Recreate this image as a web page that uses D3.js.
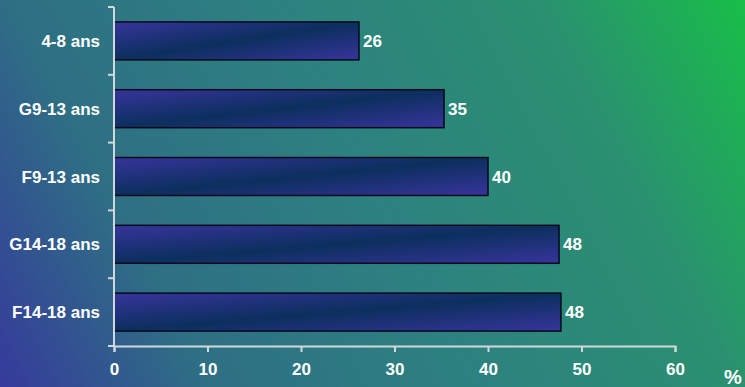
<!DOCTYPE html>
<html>
<head>
<meta charset="utf-8">
<script src="https://cdn.jsdelivr.net/npm/d3@7"></script>
<style>
  html, body { margin: 0; padding: 0; overflow: hidden; }
  svg { display: block; }
</style>
</head>
<body>
<svg id="chart" width="745" height="387"></svg>
<script>
// data
const categories = ['4-8 ans', 'G9-13 ans', 'F9-13 ans', 'G14-18 ans', 'F14-18 ans'];
const values = [26.2, 35.3, 40.0, 47.6, 47.8];
const xTicks = [0, 10, 20, 30, 40, 50, 60];
const unitLabel = '%';

const data = categories.map((c, i) => ({ cat: c, value: values[i] }));

const svg = d3.select('#chart');
const width = +svg.attr('width');
const height = +svg.attr('height');
const margin = { top: 7, right: 70, bottom: 41, left: 114 };

const defs = svg.append('defs');

const bg = defs.append('linearGradient')
  .attr('id', 'bg')
  .attr('gradientUnits', 'userSpaceOnUse')
  .attr('x1', 0).attr('y1', height)
  .attr('x2', width).attr('y2', 0);
[[0, '#363a9c'], [0.22, '#2e6f84'], [0.5, '#2d8180'], [0.78, '#2a9070'], [1, '#18be48']]
  .forEach(s => bg.append('stop').attr('offset', s[0]).attr('stop-color', s[1]));

const barGrad = defs.append('linearGradient')
  .attr('id', 'bar')
  .attr('x1', 0).attr('y1', 0)
  .attr('x2', 1).attr('y2', 1);
[[0, '#37349c'], [0.5, '#0c2f5e'], [1, '#37349c']]
  .forEach(s => barGrad.append('stop').attr('offset', s[0]).attr('stop-color', s[1]));

svg.append('rect')
  .attr('width', width)
  .attr('height', height)
  .attr('fill', 'url(#bg)');

const x = d3.scaleLinear()
  .domain([0, 60])
  .range([margin.left, 675]);

const y = d3.scaleBand()
  .domain(categories)
  .range([margin.top, height - margin.bottom])
  .paddingInner(0.44)
  .paddingOuter(0.22);

const axisColor = '#d0d8dc';
const fontFam = 'Arial, "Liberation Sans", sans-serif';
const fontSize = 17;

// bars
svg.append('g')
  .selectAll('rect')
  .data(data)
  .join('rect')
  .attr('x', x(0))
  .attr('y', d => y(d.cat))
  .attr('width', d => x(d.value) - x(0))
  .attr('height', y.bandwidth())
  .attr('fill', 'url(#bar)')
  .attr('stroke', '#050a1a')
  .attr('stroke-width', 1.5);

// value labels
svg.append('g')
  .selectAll('text')
  .data(data)
  .join('text')
  .attr('x', d => x(d.value) + 4)
  .attr('y', d => y(d.cat) + y.bandwidth() / 2)
  .attr('dy', '0.36em')
  .attr('fill', '#ffffff')
  .attr('font-family', fontFam)
  .attr('font-weight', 'bold')
  .attr('font-size', fontSize)
  .text(d => d3.format('.0f')(d.value));

// x axis
const xAxis = svg.append('g')
  .attr('transform', `translate(0,${height - margin.bottom})`)
  .call(d3.axisBottom(x).tickValues(xTicks).tickSize(6).tickPadding(11).tickSizeOuter(6));
xAxis.select('.domain').attr('stroke', axisColor).attr('stroke-width', 2);
xAxis.selectAll('.tick line').attr('stroke', axisColor).attr('stroke-width', 2);
xAxis.selectAll('.tick text')
  .attr('fill', '#ffffff')
  .attr('font-family', fontFam)
  .attr('font-weight', 'bold')
  .attr('font-size', fontSize);

// y axis: ticks sit between the categories
const yAxis = svg.append('g')
  .attr('transform', `translate(${margin.left},0)`);
yAxis.append('line')
  .attr('x1', 0).attr('x2', 0)
  .attr('y1', margin.top).attr('y2', height - margin.bottom)
  .attr('stroke', axisColor).attr('stroke-width', 2);
const step = y.step();
const edges = categories.map(c => y(c) - y.paddingInner() * step / 2).concat([height - margin.bottom]);
yAxis.selectAll('line.tk')
  .data(edges)
  .join('line')
  .attr('class', 'tk')
  .attr('x1', -6).attr('x2', 0)
  .attr('y1', d => d).attr('y2', d => d)
  .attr('stroke', axisColor).attr('stroke-width', 2);
yAxis.selectAll('text')
  .data(categories)
  .join('text')
  .attr('x', -14)
  .attr('y', d => y(d) + y.bandwidth() / 2)
  .attr('dy', '0.36em')
  .attr('text-anchor', 'end')
  .attr('fill', '#ffffff')
  .attr('font-family', fontFam)
  .attr('font-weight', 'bold')
  .attr('font-size', fontSize)
  .text(d => d);

// unit
svg.append('text')
  .attr('x', 733)
  .attr('y', 384)
  .attr('text-anchor', 'middle')
  .attr('fill', '#ffffff')
  .attr('font-family', fontFam)
  .attr('font-weight', 'bold')
  .attr('font-size', 20)
  .text(unitLabel);
</script>
</body>
</html>
